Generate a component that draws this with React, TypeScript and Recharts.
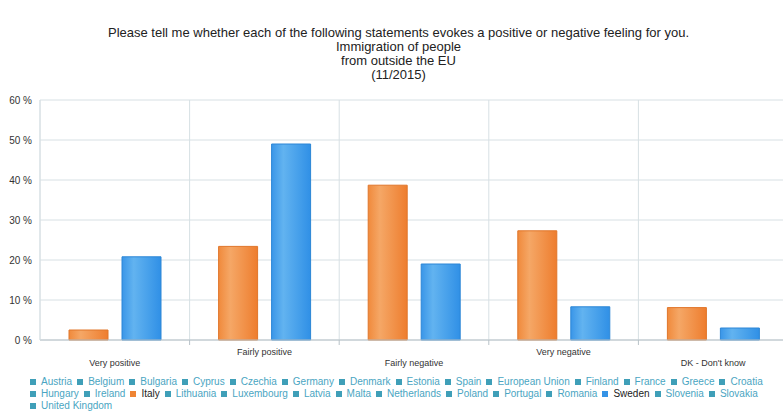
import React from "react";
import { BarChart, Bar, XAxis, YAxis, CartesianGrid } from "recharts";

const categories = ["Very positive", "Fairly positive", "Fairly negative", "Very negative", "DK - Don't know"];
const italy = [2.5, 23.4, 38.7, 27.3, 8.1];
const sweden = [20.8, 49.0, 19.0, 8.3, 3.0];
const yTicks = [0, 10, 20, 30, 40, 50, 60];

const legendItems = [
  "Austria", "Belgium", "Bulgaria", "Cyprus", "Czechia", "Germany", "Denmark", "Estonia", "Spain",
  "European Union", "Finland", "France", "Greece", "Croatia", "Hungary", "Ireland", "Italy",
  "Lithuania", "Luxembourg", "Latvia", "Malta", "Netherlands", "Poland", "Portugal", "Romania",
  "Sweden", "Slovenia", "Slovakia", "United Kingdom",
];
const activeColors: Record<string, string> = { Italy: "#ef8433", Sweden: "#3593e6" };

const titleLines = [
  "Please tell me whether each of the following statements evokes a positive or negative feeling for you.",
  "Immigration of people",
  "from outside the EU",
  "(11/2015)",
];

const data = categories.map((name, i) => ({ name, Italy: italy[i], Sweden: sweden[i] }));

const FONT = "'Liberation Sans', Arial, sans-serif";

const CategoryTick = (props: any) => {
  const { x, y, payload, index, width } = props;
  const band = width / categories.length;
  const bx = x + band / 2;
  return (
    <g>
      <line x1={bx} x2={bx} y1={y - 8} y2={y - 3} stroke="#b8c2c8" />
      <text x={x} y={index % 2 === 0 ? y + 18 : y + 7} textAnchor="middle" fontSize={9} fill="#333" fontFamily={FONT}>
        {payload.value}
      </text>
    </g>
  );
};

const App: React.FC = () => {
  return (
    <div style={{ position: "absolute", left: 0, top: 0, width: 783, height: 416, overflow: "hidden", background: "#fff", fontFamily: FONT }}>
      <div style={{ position: "absolute", left: 0, top: 26, width: 797, textAlign: "center", fontSize: 13, lineHeight: "14px", color: "#222" }}>
        {titleLines.map((l) => (
          <div key={l}>{l}</div>
        ))}
      </div>
      <BarChart
        width={788}
        height={416}
        data={data}
        margin={{ top: 100, right: 0, left: 0, bottom: 46 }}
        barCategoryGap={29}
        barGap={14}
        style={{ position: "absolute", left: 0, top: 0 }}
      >
        <defs>
          <linearGradient id="gItaly" x1="0" x2="1" y1="0" y2="0">
            <stop offset="0%" stopColor="#f08a3c" />
            <stop offset="30%" stopColor="#f5a766" />
            <stop offset="100%" stopColor="#ee7d2e" />
          </linearGradient>
          <linearGradient id="gSweden" x1="0" x2="1" y1="0" y2="0">
            <stop offset="0%" stopColor="#3a96e8" />
            <stop offset="30%" stopColor="#62b3f0" />
            <stop offset="100%" stopColor="#3090e6" />
          </linearGradient>
        </defs>
        <CartesianGrid
          stroke="#d7e0e4"
          verticalCoordinatesGenerator={({ offset }: any) =>
            categories.map((_, i) => offset.left + (i * offset.width) / categories.length)
          }
        />
        <XAxis
          dataKey="name"
          height={30}
          interval={0}
          axisLine={{ stroke: "#b8c2c8" }}
          tickLine={false}
          tick={<CategoryTick />}
        />
        <YAxis
          width={40}
          domain={[0, 60]}
          ticks={yTicks}
          tickFormatter={(v) => `${v} %`}
          axisLine={{ stroke: "#d7e0e4" }}
          tickLine={false}
          tick={{ fontSize: 10, fill: "#333", fontFamily: FONT }}
        />
        <Bar dataKey="Italy" fill="url(#gItaly)" stroke="#e0762a" strokeWidth={1} isAnimationActive={false} />
        <Bar dataKey="Sweden" fill="url(#gSweden)" stroke="#2c86d6" strokeWidth={1} isAnimationActive={false} />
      </BarChart>
      <div
        style={{
          position: "absolute",
          left: 30,
          top: 376,
          width: 750,
          display: "flex",
          flexWrap: "wrap",
          fontSize: 10,
          lineHeight: "12px",
        }}
      >
        {legendItems.map((name) => (
          <div key={name} style={{ display: "flex", alignItems: "center", marginRight: 5 }}>
            <span style={{ width: 6, height: 6, background: activeColors[name] || "#3f9fb8", marginRight: 5 }} />
            <span style={{ color: activeColors[name] ? "#222" : "#4aa5c2" }}>{name}</span>
          </div>
        ))}
      </div>
    </div>
  );
};

export default App;
